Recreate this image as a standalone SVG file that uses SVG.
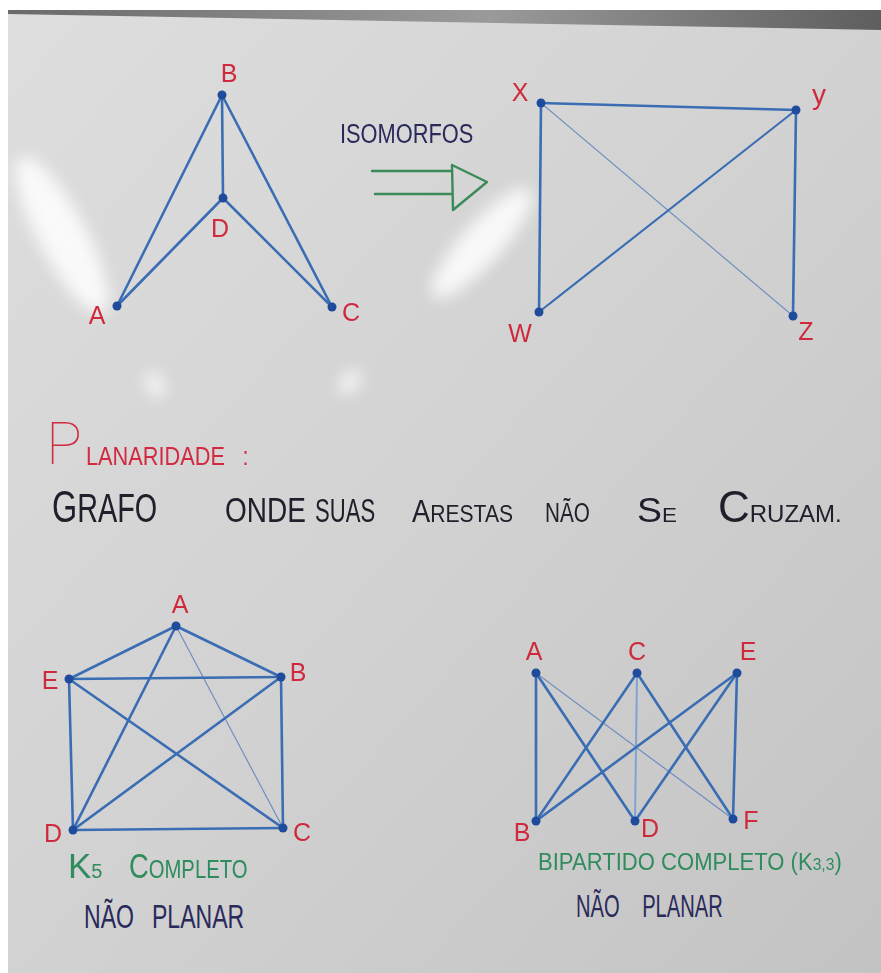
<svg xmlns="http://www.w3.org/2000/svg" width="881" height="973" viewBox="0 0 881 973">
<defs>
<linearGradient id="board" x1="0" y1="0" x2="1" y2="1">
<stop offset="0" stop-color="#dedede"/>
<stop offset="0.5" stop-color="#d2d2d2"/>
<stop offset="1" stop-color="#c3c3c3"/>
</linearGradient>
<linearGradient id="frame" x1="0" y1="0" x2="1" y2="0">
<stop offset="0" stop-color="#6a6a6a"/>
<stop offset="0.55" stop-color="#9a9a9a"/>
<stop offset="1" stop-color="#5e5e5e"/>
</linearGradient>
<filter id="blur" x="-50%" y="-50%" width="200%" height="200%"><feGaussianBlur stdDeviation="8"/></filter>
<style>
.e{stroke:#3a6db3;stroke-width:2.6;stroke-linecap:round;fill:none}
.t{stroke:#6f8fbf;stroke-width:1.2}
.n{fill:#1f4b9c}
.lb{font-family:"Liberation Sans",Arial,sans-serif;font-size:25px;fill:#cf2a3c;text-anchor:middle}
.hw{font-family:"Liberation Sans",Arial,sans-serif}
.blk{fill:#20202c}
.nav{fill:#2a2a5a}
.grn{fill:#2f8c5c}
.red{fill:#d22a40}
.ar{stroke:#3a8a5a;stroke-width:2.4;fill:none;stroke-linecap:round;stroke-linejoin:round}
</style>
</defs>

<!-- background -->
<rect x="0" y="0" width="881" height="973" fill="#ffffff"/>
<rect x="8" y="10" width="873" height="963" fill="url(#board)"/>
<polygon points="8,10 881,10 881,30 8,14" fill="url(#frame)"/>
<!-- glare -->
<g fill="#ffffff" opacity="0.85" filter="url(#blur)">
<ellipse cx="62" cy="235" rx="24" ry="88" transform="rotate(-28 62 235)"/>
<ellipse cx="482" cy="243" rx="20" ry="72" transform="rotate(42 482 243)"/>
<ellipse cx="155" cy="385" rx="8" ry="14" transform="rotate(-30 155 385)"/>
<ellipse cx="350" cy="382" rx="8" ry="14" transform="rotate(40 350 382)"/>
</g>

<!-- connectors -->
<g id="connectors">
<line class="e" x1="117" y1="306" x2="222" y2="95"/>
<line class="e" x1="222" y1="95" x2="223" y2="198"/>
<line class="e" x1="222" y1="95" x2="332" y2="307"/>
<line class="e" x1="117" y1="306" x2="223" y2="198"/>
<line class="e" x1="223" y1="198" x2="332" y2="307"/>
<line class="e" x1="541" y1="103" x2="796" y2="110"/>
<line class="e" x1="541" y1="103" x2="539" y2="312"/>
<line class="e t" x1="541" y1="103" x2="793" y2="316"/>
<line class="e" x1="539" y1="312" x2="796" y2="110" style="stroke-width:2"/>
<line class="e" x1="796" y1="110" x2="793" y2="316"/>
<line class="e" x1="176" y1="626" x2="69" y2="679"/>
<line class="e" x1="176" y1="626" x2="281" y2="677"/>
<line class="e" x1="176" y1="626" x2="73" y2="830"/>
<line class="e t" x1="176" y1="626" x2="283" y2="828"/>
<line class="e" x1="69" y1="679" x2="281" y2="677"/>
<line class="e" x1="69" y1="679" x2="73" y2="830"/>
<line class="e" x1="69" y1="679" x2="283" y2="828"/>
<line class="e" x1="281" y1="677" x2="73" y2="830"/>
<line class="e" x1="281" y1="677" x2="283" y2="828"/>
<line class="e" x1="73" y1="830" x2="283" y2="828"/>
<line class="e" x1="536" y1="673" x2="536" y2="821"/>
<line class="e" x1="536" y1="673" x2="635" y2="821"/>
<line class="e t" x1="536" y1="673" x2="733" y2="819"/>
<line class="e" x1="637" y1="673" x2="536" y2="821"/>
<line class="e" x1="637" y1="673" x2="635" y2="821" style="stroke:#7fa3d3;stroke-width:2"/>
<line class="e" x1="637" y1="673" x2="733" y2="819"/>
<line class="e" x1="737" y1="673" x2="536" y2="821"/>
<line class="e" x1="737" y1="673" x2="635" y2="821"/>
<line class="e" x1="737" y1="673" x2="733" y2="819"/>
</g>

<!-- graph 1 nodes -->
<g id="g1-B"><circle class="n" cx="222" cy="95" r="4.5"/><text class="lb" x="229" y="82">B</text></g>
<g id="g1-D"><circle class="n" cx="223" cy="198" r="4.5"/><text class="lb" x="220" y="237">D</text></g>
<g id="g1-A"><circle class="n" cx="117" cy="306" r="4.5"/><text class="lb" x="97" y="324">A</text></g>
<g id="g1-C"><circle class="n" cx="332" cy="307" r="4.5"/><text class="lb" x="351" y="321">C</text></g>

<!-- graph 2 nodes -->
<g id="g2-X"><circle class="n" cx="541" cy="103" r="4.5"/><text class="lb" x="520" y="101">X</text></g>
<g id="g2-Y"><circle class="n" cx="796" cy="110" r="4.5"/><text class="lb" x="819" y="104" style="font-size:28px">y</text></g>
<g id="g2-W"><circle class="n" cx="539" cy="312" r="4.5"/><text class="lb" x="520" y="342">W</text></g>
<g id="g2-Z"><circle class="n" cx="793" cy="316" r="4.5"/><text class="lb" x="806" y="340">Z</text></g>

<!-- isomorfos arrow -->
<g id="isomorfos">
<text class="hw nav" transform="translate(340,143) scale(0.78,1)" font-size="28">ISOMORFOS</text>
<path class="ar" d="M372,171 L452,171 M375,194 L452,194 M452,165 L487,182 L453,210 Z"/>
</g>

<!-- planaridade -->
<g id="planaridade">
<text class="red" x="46" y="464" font-family="Roboto,'Liberation Sans',sans-serif" font-weight="100" font-size="60">P</text>
<text class="hw red" transform="translate(86,465) scale(0.87,1)" font-size="25">LANARIDADE<tspan x="180">:</tspan></text>
</g>

<g id="definicao" class="hw blk">
<text transform="translate(52,522) scale(0.72,1)"><tspan font-size="45">G</tspan><tspan font-size="40">RAFO</tspan></text>
<text transform="translate(225,522) scale(0.8,1)" font-size="35">ONDE</text>
<text transform="translate(315,522) scale(0.65,1)" font-size="34">SUAS</text>
<text transform="translate(412,522) scale(0.88,1)"><tspan font-size="31">A</tspan><tspan font-size="24">RESTAS</tspan></text>
<text transform="translate(545,522) scale(0.74,1)" font-size="28">NÃO</text>
<text transform="translate(637,522) scale(1.07,1)"><tspan font-size="35">S</tspan><tspan font-size="21">E</tspan></text>
<text transform="translate(718,522)"><tspan font-size="44">C</tspan><tspan font-size="24">RUZAM.</tspan></text>
</g>

<!-- K5 nodes -->
<g id="k5-A"><circle class="n" cx="176" cy="626" r="4.5"/><text class="lb" x="180" y="613">A</text></g>
<g id="k5-E"><circle class="n" cx="69" cy="679" r="4.5"/><text class="lb" x="50" y="689">E</text></g>
<g id="k5-B"><circle class="n" cx="281" cy="677" r="4.5"/><text class="lb" x="298" y="681">B</text></g>
<g id="k5-D"><circle class="n" cx="73" cy="830" r="4.5"/><text class="lb" x="53" y="842">D</text></g>
<g id="k5-C"><circle class="n" cx="283" cy="828" r="4.5"/><text class="lb" x="302" y="841">C</text></g>

<!-- K3,3 nodes -->
<g id="k33-A"><circle class="n" cx="536" cy="673" r="4.5"/><text class="lb" x="534" y="660">A</text></g>
<g id="k33-C"><circle class="n" cx="637" cy="673" r="4.5"/><text class="lb" x="637" y="660">C</text></g>
<g id="k33-E"><circle class="n" cx="737" cy="673" r="4.5"/><text class="lb" x="748" y="660">E</text></g>
<g id="k33-B"><circle class="n" cx="536" cy="821" r="4.5"/><text class="lb" x="522" y="841">B</text></g>
<g id="k33-D"><circle class="n" cx="635" cy="821" r="4.5"/><text class="lb" x="650" y="837">D</text></g>
<g id="k33-F"><circle class="n" cx="733" cy="819" r="4.5"/><text class="lb" x="751" y="829">F</text></g>

<!-- captions -->
<g id="caption-k5">
<text class="hw grn" x="68" y="878"><tspan font-size="35">K</tspan><tspan font-size="20">5</tspan></text>
<text class="hw grn" transform="translate(129,878) scale(0.78,1)"><tspan font-size="35">C</tspan><tspan font-size="26">OMPLETO</tspan></text>
<text class="hw nav" transform="translate(84,928) scale(0.7,1)" font-size="33">NÃO<tspan x="97">PLANAR</tspan></text>
</g>
<g id="caption-k33">
<text class="hw grn" transform="translate(538,870) scale(0.92,1)" font-size="24">BIPARTIDO COMPLETO (K<tspan font-size="17">3,3</tspan>)</text>
<text class="hw nav" transform="translate(576,917) scale(0.63,1)" font-size="32">NÃO<tspan x="105">PLANAR</tspan></text>
</g>
</svg>
